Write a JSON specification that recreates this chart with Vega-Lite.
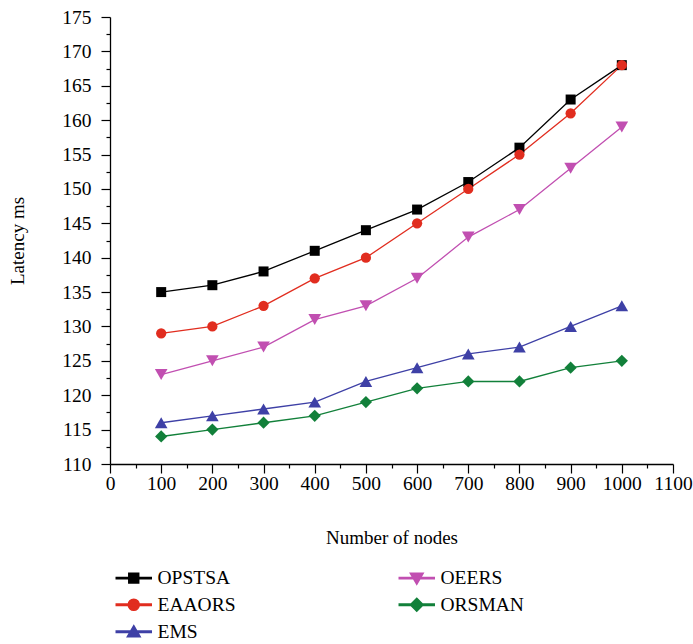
{
  "$schema": "https://vega.github.io/schema/vega-lite/v6.json",
  "autosize": "none",
  "width": 563,
  "height": 447,
  "padding": {"left": 110, "top": 17, "right": 20, "bottom": 180},
  "background": "white",
  "config": {
    "view": {"stroke": null},
    "font": "Liberation Serif",
    "axis": {
      "grid": false,
      "domainColor": "#000000",
      "domainWidth": 1.3,
      "tickColor": "#000000",
      "tickWidth": 1.2,
      "labelFont": "Liberation Serif",
      "labelFontSize": 19.5,
      "labelColor": "#000000",
      "titleFont": "Liberation Serif",
      "titleFontSize": 19,
      "titleFontWeight": "normal",
      "titleColor": "#000000"
    },
    "legend": {
      "labelFont": "Liberation Serif",
      "labelFontSize": 19.5,
      "labelColor": "#000000",
      "padding": 0
    }
  },
  "data": {
    "values": [
      {"n": 100, "series": "OPSTSA", "latency": 135},
      {"n": 200, "series": "OPSTSA", "latency": 136},
      {"n": 300, "series": "OPSTSA", "latency": 138},
      {"n": 400, "series": "OPSTSA", "latency": 141},
      {"n": 500, "series": "OPSTSA", "latency": 144},
      {"n": 600, "series": "OPSTSA", "latency": 147},
      {"n": 700, "series": "OPSTSA", "latency": 151},
      {"n": 800, "series": "OPSTSA", "latency": 156},
      {"n": 900, "series": "OPSTSA", "latency": 163},
      {"n": 1000, "series": "OPSTSA", "latency": 168},
      {"n": 100, "series": "EAAORS", "latency": 129},
      {"n": 200, "series": "EAAORS", "latency": 130},
      {"n": 300, "series": "EAAORS", "latency": 133},
      {"n": 400, "series": "EAAORS", "latency": 137},
      {"n": 500, "series": "EAAORS", "latency": 140},
      {"n": 600, "series": "EAAORS", "latency": 145},
      {"n": 700, "series": "EAAORS", "latency": 150},
      {"n": 800, "series": "EAAORS", "latency": 155},
      {"n": 900, "series": "EAAORS", "latency": 161},
      {"n": 1000, "series": "EAAORS", "latency": 168},
      {"n": 100, "series": "OEERS", "latency": 123},
      {"n": 200, "series": "OEERS", "latency": 125},
      {"n": 300, "series": "OEERS", "latency": 127},
      {"n": 400, "series": "OEERS", "latency": 131},
      {"n": 500, "series": "OEERS", "latency": 133},
      {"n": 600, "series": "OEERS", "latency": 137},
      {"n": 700, "series": "OEERS", "latency": 143},
      {"n": 800, "series": "OEERS", "latency": 147},
      {"n": 900, "series": "OEERS", "latency": 153},
      {"n": 1000, "series": "OEERS", "latency": 159},
      {"n": 100, "series": "EMS", "latency": 116},
      {"n": 200, "series": "EMS", "latency": 117},
      {"n": 300, "series": "EMS", "latency": 118},
      {"n": 400, "series": "EMS", "latency": 119},
      {"n": 500, "series": "EMS", "latency": 122},
      {"n": 600, "series": "EMS", "latency": 124},
      {"n": 700, "series": "EMS", "latency": 126},
      {"n": 800, "series": "EMS", "latency": 127},
      {"n": 900, "series": "EMS", "latency": 130},
      {"n": 1000, "series": "EMS", "latency": 133},
      {"n": 100, "series": "ORSMAN", "latency": 114},
      {"n": 200, "series": "ORSMAN", "latency": 115},
      {"n": 300, "series": "ORSMAN", "latency": 116},
      {"n": 400, "series": "ORSMAN", "latency": 117},
      {"n": 500, "series": "ORSMAN", "latency": 119},
      {"n": 600, "series": "ORSMAN", "latency": 121},
      {"n": 700, "series": "ORSMAN", "latency": 122},
      {"n": 800, "series": "ORSMAN", "latency": 122},
      {"n": 900, "series": "ORSMAN", "latency": 124},
      {"n": 1000, "series": "ORSMAN", "latency": 125}
    ]
  },
  "encoding": {
    "x": {
      "field": "n",
      "type": "quantitative",
      "scale": {"domain": [0, 1100], "nice": false, "zero": false},
      "axis": {
        "title": "Number of nodes",
        "values": [0, 50, 100, 150, 200, 250, 300, 350, 400, 450, 500, 550, 600, 650, 700, 750, 800, 850, 900, 950, 1000, 1050, 1100],
        "format": "d",
        "labelExpr": "datum.value % 100 === 0 ? datum.label : ''",
        "tickSize": {"condition": {"test": "datum.value % 100 === 0", "value": 9}, "value": 4},
        "labelPadding": 1,
        "titlePadding": 36,
        "labelFlush": false,
        "labelOverlap": false
      }
    },
    "y": {
      "field": "latency",
      "type": "quantitative",
      "scale": {"domain": [110, 175], "nice": false, "zero": false},
      "axis": {
        "title": "Latency ms",
        "values": [110, 112.5, 115, 117.5, 120, 122.5, 125, 127.5, 130, 132.5, 135, 137.5, 140, 142.5, 145, 147.5, 150, 152.5, 155, 157.5, 160, 162.5, 165, 167.5, 170, 172.5, 175],
        "format": "d",
        "labelExpr": "datum.value % 5 === 0 ? datum.label : ''",
        "tickSize": {"condition": {"test": "datum.value % 5 === 0", "value": 9}, "value": 4},
        "labelPadding": 10,
        "titlePadding": 34,
        "labelFlush": false,
        "labelOverlap": false
      }
    },
    "color": {
      "field": "series",
      "type": "nominal",
      "scale": {
        "domain": ["OPSTSA", "EAAORS", "EMS", "OEERS", "ORSMAN"],
        "range": ["#000000", "#e12d1f", "#3e40a6", "#c14fb1", "#12803a"]
      },
      "legend": {
        "title": null,
        "orient": "none",
        "legendX": 14,
        "legendY": 551,
        "columns": 2,
        "gridAlign": "each",
        "columnPadding": 160,
        "rowPadding": 6,
        "symbolSize": 136,
        "symbolOpacity": 1,
        "labelOffset": 14
      }
    }
  },
  "layer": [
    {
      "mark": {"type": "line", "strokeWidth": 1.3}
    },
    {
      "transform": [{"filter": "datum.series === 'OPSTSA'"}],
      "mark": {"type": "point", "filled": true, "opacity": 1, "shape": "square", "size": 100}
    },
    {
      "transform": [{"filter": "datum.series === 'EAAORS'"}],
      "mark": {"type": "point", "filled": true, "opacity": 1, "shape": "circle", "size": 105}
    },
    {
      "transform": [{"filter": "datum.series === 'EMS'"}],
      "mark": {"type": "point", "filled": true, "opacity": 1, "shape": "triangle-up", "size": 160}
    },
    {
      "transform": [{"filter": "datum.series === 'OEERS'"}],
      "mark": {"type": "point", "filled": true, "opacity": 1, "shape": "triangle-down", "size": 160}
    },
    {
      "transform": [{"filter": "datum.series === 'ORSMAN'"}],
      "mark": {"type": "point", "filled": true, "opacity": 1, "shape": "diamond", "size": 150}
    },
    {
      "transform": [{"filter": "false"}],
      "mark": {"type": "point", "filled": true, "opacity": 1},
      "encoding": {
        "shape": {
          "field": "series",
          "type": "nominal",
          "scale": {
            "domain": ["OPSTSA", "EAAORS", "EMS", "OEERS", "ORSMAN"],
            "range": [
              "M-3,-0.11H3V0.11H-3Z M-0.85,-0.85H0.85V0.85H-0.85Z",
              "M-3,-0.11H3V0.11H-3Z M0.95,0A0.95,0.95,0,1,1,-0.95,0A0.95,0.95,0,1,1,0.95,0Z",
              "M-3,-0.11H3V0.11H-3Z M0,-1.05L1.1,0.85H-1.1Z",
              "M-3,-0.11H3V0.11H-3Z M-1.1,-0.85H1.1L0,1.05Z",
              "M-3,-0.11H3V0.11H-3Z M0,-1.1L1.1,0L0,1.1L-1.1,0Z"
            ]
          },
          "legend": {
            "title": null,
            "orient": "none",
            "legendX": 14,
            "legendY": 551,
            "columns": 2,
            "gridAlign": "each",
            "columnPadding": 160,
            "rowPadding": 6,
            "symbolSize": 136,
            "symbolOpacity": 1,
            "labelOffset": 14
          }
        }
      }
    }
  ]
}
